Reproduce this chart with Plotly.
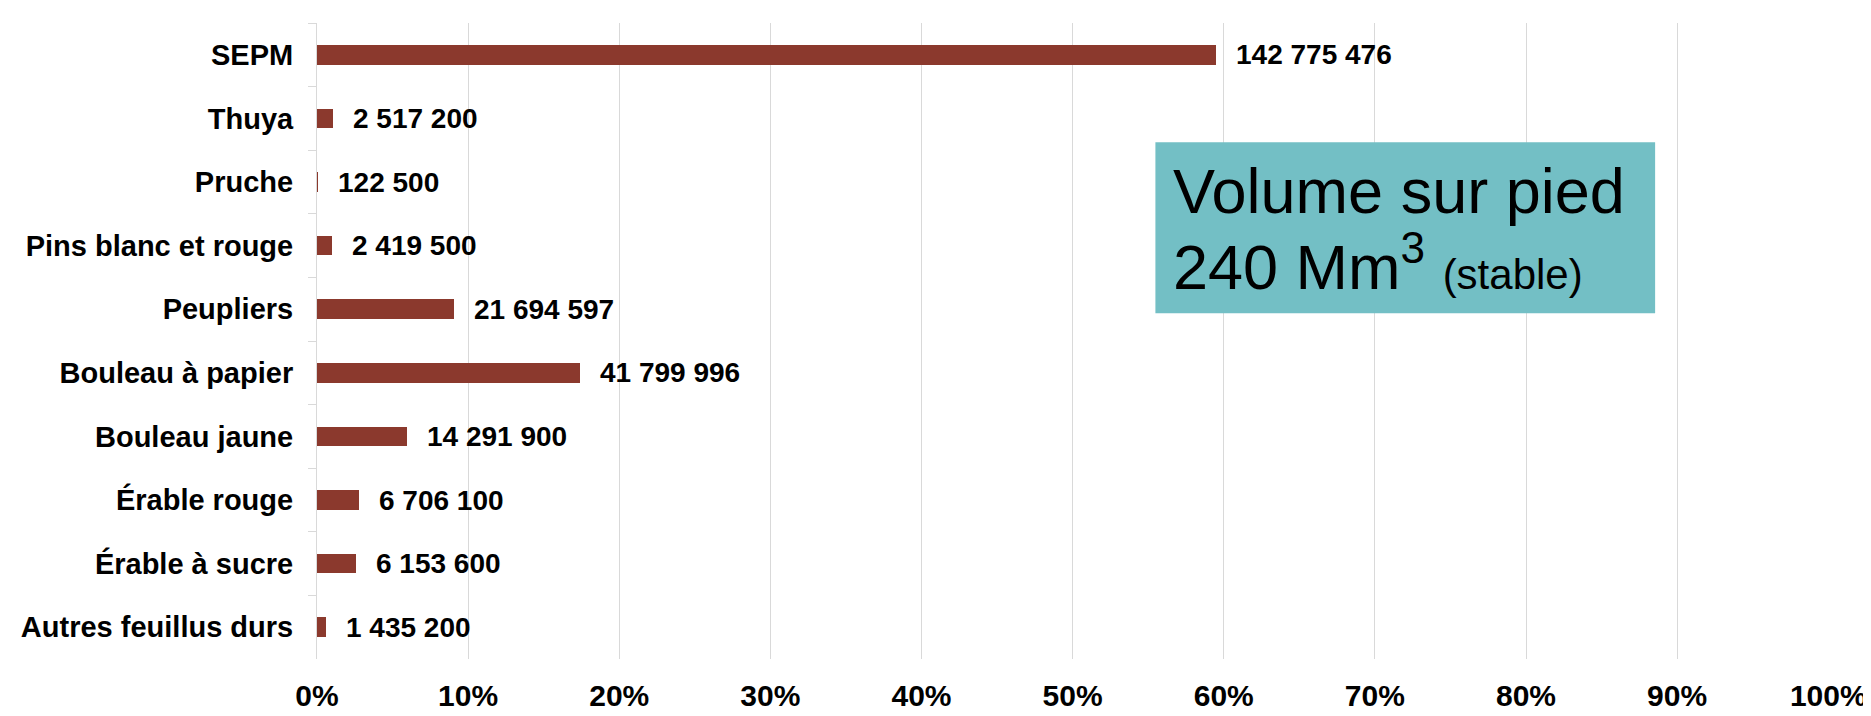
import plotly.graph_objects as go

categories = ["SEPM", "Thuya", "Pruche", "Pins blanc et rouge", "Peupliers",
              "Bouleau à papier", "Bouleau jaune", "Érable rouge",
              "Érable à sucre", "Autres feuillus durs"]
volumes = [142775476, 2517200, 122500, 2419500, 21694597,
           41799996, 14291900, 6706100, 6153600, 1435200]
x_ticks = [i / 10 for i in range(11)]
box_line1 = "Volume sur pied"
box_line2 = "240 Mm<sup>3</sup> <span style='font-size:42px'>(stable)</span>"

total = sum(volumes)
shares = [v / total for v in volumes]
labels = [f"{v:,}".replace(",", " ") for v in volumes]

FONT = "Liberation Sans, Arial, sans-serif"
BAR = "#8B392D"

fig = go.Figure()
fig.add_trace(go.Bar(
    x=shares, y=categories, orientation="h",
    marker=dict(color=BAR, line=dict(width=0)),
    width=0.31, hoverinfo="skip",
))

for s, c, t in zip(shares, categories, labels):
    fig.add_annotation(x=s, y=c, xref="x", yref="y", text=t, showarrow=False,
                       xanchor="left", yanchor="middle", xshift=18,
                       font=dict(family=FONT, size=28, color="black", weight="bold"))

fig.add_shape(type="rect", xref="paper", yref="paper",
              x0=0.5545, x1=0.885, y0=0.5438, y1=0.8126,
              fillcolor="#73BFC5", line=dict(width=0), layer="above")
fig.add_annotation(xref="paper", yref="paper", x=0.565, y=0.7358,
                   xanchor="left", yanchor="middle", align="left",
                   text=box_line1, showarrow=False,
                   font=dict(family=FONT, size=63, color="black"))
fig.add_annotation(xref="paper", yref="paper", x=0.565, y=0.623,
                   xanchor="left", yanchor="middle", align="left",
                   text=box_line2, showarrow=False,
                   font=dict(family=FONT, size=63, color="black"))

fig.update_layout(
    width=1871, height=716,
    margin=dict(l=309, r=40, t=15, b=50),
    paper_bgcolor="white", plot_bgcolor="white",
    showlegend=False, bargap=0,
    font=dict(family=FONT, color="black"),
    xaxis=dict(range=[0, 1.0005], tickvals=x_ticks, tickformat=".0%",
               showgrid=True, gridcolor="#D9D9D9", gridwidth=1,
               zeroline=False, showline=False, ticks="",
               ticklabelstandoff=16, ticklabeloverflow="allow",
               tickfont=dict(family=FONT, size=30, color="black", weight="bold")),
    yaxis=dict(categoryorder="array", categoryarray=categories, autorange="reversed",
               showline=True, linecolor="#D9D9D9", linewidth=1,
               ticks="outside", tickson="boundaries", ticklen=8, tickcolor="#D9D9D9",
               showgrid=False, zeroline=False, ticklabelstandoff=17,
               tickfont=dict(family=FONT, size=29, color="black", weight="bold")),
)

fig.write_html("out.html")
